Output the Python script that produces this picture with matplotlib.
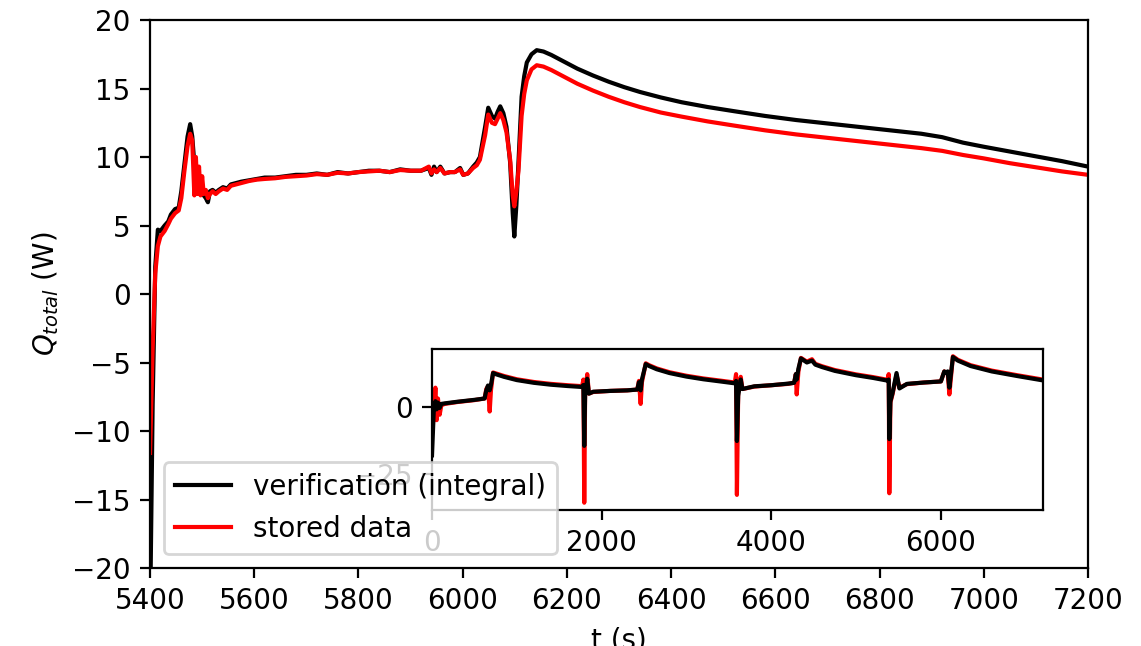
import numpy as np
import matplotlib
matplotlib.use("Agg")
import matplotlib.pyplot as plt

# main view: last cycle (5400-7200 s)
t_main = [5400, 5405, 5410, 5415, 5420, 5428, 5435, 5440, 5448, 5455, 5460, 5466, 5472, 5477,
          5481, 5485, 5488, 5491, 5494, 5497, 5500, 5503, 5507, 5511, 5515, 5520, 5526, 5532,
          5540, 5548, 5555, 5565, 5575, 5590, 5605, 5620, 5640, 5660, 5680, 5700, 5720, 5740,
          5760, 5780, 5800, 5820, 5840, 5860, 5880, 5900, 5920, 5935, 5940, 5945, 5950, 5957,
          5965, 5976, 5985, 5995, 6001, 6010, 6020, 6027, 6033, 6043, 6049, 6056, 6062, 6067,
          6072, 6078, 6084, 6091, 6096, 6099, 6103, 6107, 6113, 6118, 6123, 6132, 6142, 6155,
          6170, 6185, 6200, 6220, 6250, 6280, 6310, 6340, 6380, 6420, 6470, 6520, 6580, 6640,
          6700, 6760, 6820, 6880, 6920, 6960, 7000, 7050, 7100, 7150, 7200]
q_verif = [-24.0, -8.0, 2.0, 4.7, 4.6, 5.0, 5.3, 5.8, 6.2, 6.3, 7.5, 9.5, 11.5, 12.4,
           11.5, 9.5, 9.0, 8.0, 8.4, 7.6, 7.8, 7.2, 7.0, 6.7, 7.5, 7.6, 7.4, 7.6,
           7.8, 7.7, 8.0, 8.1, 8.2, 8.3, 8.4, 8.5, 8.5, 8.6, 8.7, 8.7, 8.8, 8.7,
           8.9, 8.8, 8.9, 9.0, 9.0, 8.9, 9.1, 9.0, 9.0, 9.2, 8.7, 9.3, 8.9, 9.3,
           8.8, 8.9, 8.9, 9.2, 8.7, 8.8, 9.3, 9.6, 10.0, 12.2, 13.6, 13.0, 12.8, 13.3,
           13.7, 13.2, 12.2, 9.6, 5.9, 4.2, 6.5, 9.6, 14.4, 15.9, 16.9, 17.5, 17.8, 17.7,
           17.45, 17.15, 16.85, 16.45, 15.95, 15.5, 15.1, 14.75, 14.35, 14.0, 13.65, 13.35, 13.0, 12.7,
           12.45, 12.2, 11.95, 11.7, 11.45, 11.05, 10.75, 10.4, 10.05, 9.7, 9.3]
q_stored = [-11.6, -4.0, 1.5, 3.5, 4.2, 4.6, 5.1, 5.5, 5.9, 6.1, 7.0, 9.0, 10.8, 11.7,
            11.2, 7.2, 10.0, 7.3, 9.3, 7.2, 8.6, 7.3, 7.6, 7.0, 7.3, 7.5, 7.3, 7.5,
            7.7, 7.6, 7.9, 8.0, 8.1, 8.25, 8.35, 8.4, 8.45, 8.55, 8.6, 8.65, 8.75, 8.7,
            8.85, 8.8, 8.9, 8.95, 9.0, 8.9, 9.05, 9.0, 9.0, 9.3, 8.8, 9.1, 8.9, 9.2,
            8.8, 8.9, 8.9, 9.1, 8.7, 8.8, 9.2, 9.4, 9.8, 11.6, 13.1, 12.5, 12.4, 12.8,
            13.2, 12.7, 11.8, 9.8, 7.2, 6.4, 7.5, 9.0, 13.0, 14.6, 15.6, 16.4, 16.7, 16.6,
            16.35, 16.05, 15.75, 15.35, 14.85, 14.4, 14.0, 13.65, 13.25, 12.95, 12.6, 12.3, 11.95, 11.65,
            11.4, 11.15, 10.9, 10.65, 10.45, 10.15, 9.9, 9.55, 9.25, 8.95, 8.7]

# inset: whole run (0-7200 s)
t_all = [0, 20, 40, 55, 70, 90, 110, 150, 300, 500, 620, 640, 660, 680, 695, 720, 760, 850,
         1000, 1200, 1400, 1600, 1770, 1785, 1795, 1805, 1830, 1850, 1900, 2100, 2300, 2420,
         2440, 2460, 2475, 2520, 2560, 2650, 2800, 3000, 3200, 3400, 3570, 3585, 3595, 3610,
         3640, 3660, 3800, 4000, 4200, 4270, 4290, 4300, 4320, 4350, 4420, 4480, 4520, 4600,
         4750, 5000, 5200, 5370, 5385, 5392, 5405, 5430, 5477, 5511, 5600, 5800, 6000, 6040,
         6060, 6080, 6100, 6142, 6200, 6350, 6600, 6900, 7200]
q_verif_all = [-18.0, -2.0, 2.0, -1.0, 1.5, -0.5, 1.0, 1.2, 1.8, 2.5, 3.0, 6.0, 7.8, 6.0, 8.0,
               12.4, 11.9, 11.0, 9.8, 8.8, 8.1, 7.6, 7.25, 8.0, -14.5, 4.0, 10.3, 4.8, 5.5, 5.8,
               6.0, 6.3, 9.0, 6.0, 10.0, 15.7, 15.0, 13.8, 12.4, 11.1, 10.1, 9.3, 8.6, 9.5,
               -12.7, 4.0, 10.0, 6.5, 7.5, 7.9, 8.5, 8.8, 12.0, 10.0, 14.0, 17.8, 16.3, 17.0,
               15.5, 14.6, 13.2, 11.6, 10.6, 9.6, 10.0, -12.0, 2.0, 5.0, 12.4, 6.7, 8.4, 8.9,
               9.3, 13.0, 12.5, 13.0, 7.0, 18.3, 17.0, 15.0, 13.0, 11.3, 9.7]
q_stored_all = [-10.0, -3.0, 7.0, -5.0, 3.0, -3.0, 0.5, 1.0, 1.7, 2.4, 3.0, 6.5, 7.5, -1.8, 6.0,
                12.6, 12.2, 11.3, 10.1, 9.1, 8.4, 7.9, 7.55, 10.0, -35.5, 4.0, 12.0, 4.8, 5.4, 5.8,
                6.0, 6.3, 9.5, 1.0, 9.0, 16.0, 15.3, 14.1, 12.7, 11.4, 10.4, 9.6, 8.9, 12.0,
                -32.6, 5.0, 11.0, 6.5, 7.4, 7.9, 8.4, 8.8, 12.0, 4.5, 13.0, 18.0, 16.6, 17.5,
                15.8, 14.9, 13.5, 11.9, 10.9, 9.9, 12.0, -32.0, 1.5, 4.6, 11.7, 7.0, 8.3, 8.9,
                9.3, 13.0, 12.5, 12.5, 4.5, 18.6, 17.3, 15.3, 13.3, 11.6, 10.0]

fig = plt.figure(figsize=(5.705, 3.23), dpi=200)
ax = fig.add_axes([0.1315, 0.1207, 0.8221, 0.8483])

ax.plot(t_main, q_verif, color="black", label="verification (integral)")
ax.plot(t_main, q_stored, color="red", label="stored data")
ax.set_xlim(5400, 7200)
ax.set_ylim(-20, 20)
ax.set_xlabel("t (s)")
ax.set_ylabel(r"$Q_{total}$ (W)")

# overview inset
axin = ax.inset_axes([0.3006, 0.1058, 0.651, 0.294])
axin.plot(t_all, q_stored_all, color="red")
axin.plot(t_all, q_verif_all, color="black")
axin.set_xlim(0, 7200)
axin.set_yticks([-25, 0])

ax.legend(loc="lower left")

fig.savefig("out.png", dpi=200)
